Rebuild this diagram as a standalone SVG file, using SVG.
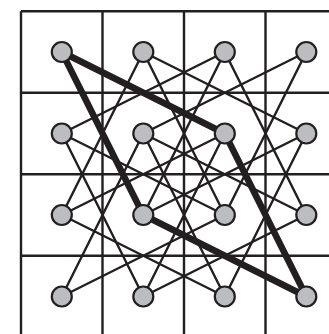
<svg xmlns="http://www.w3.org/2000/svg" width="329" height="334" viewBox="0 0 329 334">
<style>
.grid{stroke:#231f20;stroke-width:2.4;fill:none}
.e{stroke:#231f20;stroke-width:2.4;stroke-linecap:round}
.t{stroke:#231f20;stroke-width:6.5;stroke-linecap:round}
.n{fill:#bcbdc0;stroke:#231f20;stroke-width:2.2}
</style>
<rect width="329" height="334" fill="#ffffff"/>
<g id="grid" class="grid">
<path d="M21,11.3V334M102.5,11.3V334M184,11.3V334M265.5,11.3V334"/>
<path d="M21,11.3H329M21,92.8H329M21,174.3H329M21,255.8H329"/>
</g>
<g id="connectors">
<!-- thin knight moves dc=1, dr=2 -->
<line class="e" x1="61.8" y1="52" x2="143.3" y2="215"/>
<line class="e" x1="143.3" y1="52" x2="61.8" y2="215"/>
<line class="e" x1="143.3" y1="52" x2="224.8" y2="215"/>
<line class="e" x1="224.8" y1="52" x2="143.3" y2="215"/>
<line class="e" x1="224.8" y1="52" x2="306.3" y2="215"/>
<line class="e" x1="306.3" y1="52" x2="224.8" y2="215"/>
<line class="e" x1="61.8" y1="133.5" x2="143.3" y2="296.5"/>
<line class="e" x1="143.3" y1="133.5" x2="61.8" y2="296.5"/>
<line class="e" x1="143.3" y1="133.5" x2="224.8" y2="296.5"/>
<line class="e" x1="224.8" y1="133.5" x2="143.3" y2="296.5"/>
<line class="e" x1="224.8" y1="133.5" x2="306.3" y2="296.5"/>
<line class="e" x1="306.3" y1="133.5" x2="224.8" y2="296.5"/>
<!-- thin knight moves dc=2, dr=1 -->
<line class="e" x1="61.8" y1="52" x2="224.8" y2="133.5"/>
<line class="e" x1="224.8" y1="52" x2="61.8" y2="133.5"/>
<line class="e" x1="143.3" y1="52" x2="306.3" y2="133.5"/>
<line class="e" x1="306.3" y1="52" x2="143.3" y2="133.5"/>
<line class="e" x1="61.8" y1="133.5" x2="224.8" y2="215"/>
<line class="e" x1="224.8" y1="133.5" x2="61.8" y2="215"/>
<line class="e" x1="143.3" y1="133.5" x2="306.3" y2="215"/>
<line class="e" x1="306.3" y1="133.5" x2="143.3" y2="215"/>
<line class="e" x1="61.8" y1="215" x2="224.8" y2="296.5"/>
<line class="e" x1="224.8" y1="215" x2="61.8" y2="296.5"/>
<line class="e" x1="143.3" y1="215" x2="306.3" y2="296.5"/>
<line class="e" x1="306.3" y1="215" x2="143.3" y2="296.5"/>
<!-- thick cycle -->
<line class="t" x1="61.8" y1="52" x2="224.8" y2="133.5"/>
<line class="t" x1="224.8" y1="133.5" x2="306.3" y2="296.5"/>
<line class="t" x1="306.3" y1="296.5" x2="143.3" y2="215"/>
<line class="t" x1="143.3" y1="215" x2="61.8" y2="52"/>
</g>
<g id="n00"><circle class="n" cx="61.8" cy="52" r="10"/></g>
<g id="n10"><circle class="n" cx="143.3" cy="52" r="10"/></g>
<g id="n20"><circle class="n" cx="224.8" cy="52" r="10"/></g>
<g id="n30"><circle class="n" cx="306.3" cy="52" r="10"/></g>
<g id="n01"><circle class="n" cx="61.8" cy="133.5" r="10"/></g>
<g id="n11"><circle class="n" cx="143.3" cy="133.5" r="10"/></g>
<g id="n21"><circle class="n" cx="224.8" cy="133.5" r="10"/></g>
<g id="n31"><circle class="n" cx="306.3" cy="133.5" r="10"/></g>
<g id="n02"><circle class="n" cx="61.8" cy="215" r="10"/></g>
<g id="n12"><circle class="n" cx="143.3" cy="215" r="10"/></g>
<g id="n22"><circle class="n" cx="224.8" cy="215" r="10"/></g>
<g id="n32"><circle class="n" cx="306.3" cy="215" r="10"/></g>
<g id="n03"><circle class="n" cx="61.8" cy="296.5" r="10"/></g>
<g id="n13"><circle class="n" cx="143.3" cy="296.5" r="10"/></g>
<g id="n23"><circle class="n" cx="224.8" cy="296.5" r="10"/></g>
<g id="n33"><circle class="n" cx="306.3" cy="296.5" r="10"/></g>
</svg>
